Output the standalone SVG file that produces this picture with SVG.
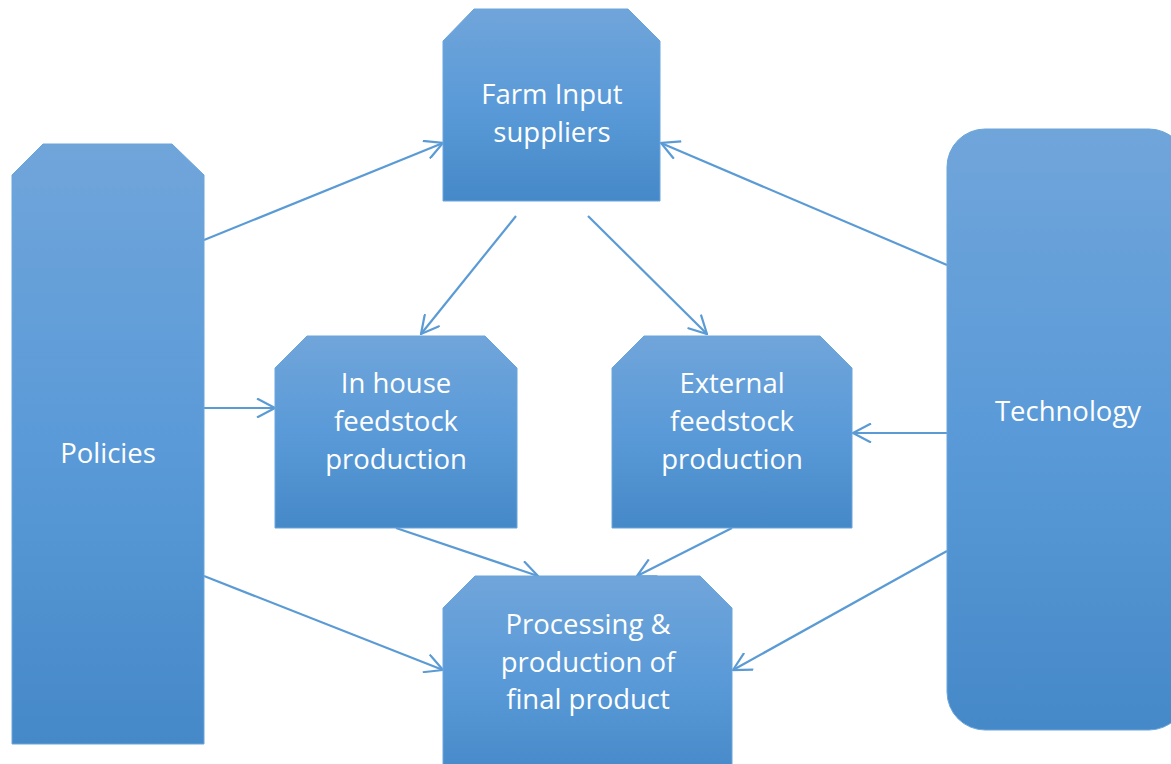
<svg xmlns="http://www.w3.org/2000/svg" width="1171" height="764" viewBox="0 0 1171 764">
<style>
.node{fill:url(#g);stroke:#6aa5dc;stroke-width:1}
.lbl{font-family:"Open Sans","Liberation Sans",sans-serif;font-size:27.5px;fill:#ffffff;text-anchor:middle}
.con{stroke:#5b9bd5;stroke-width:2.2;fill:none;marker-end:url(#ah)}
</style>
<defs>
<linearGradient id="g" x1="0" y1="0" x2="0" y2="1">
<stop offset="0" stop-color="#70a5da"/>
<stop offset="0.5" stop-color="#5a9ad8"/>
<stop offset="1" stop-color="#4689c8"/>
</linearGradient>
<marker id="ah" viewBox="0 0 20 20" refX="19" refY="10" markerWidth="20" markerHeight="20" markerUnits="userSpaceOnUse" orient="auto">
<path d="M1,0.5 L19,10 L1,19.5" fill="none" stroke="#5b9bd5" stroke-width="2.2"/>
</marker>
</defs>
<g id="connectors">
<line class="con" x1="204" y1="240" x2="443" y2="143"/>
<line class="con" x1="204" y1="408" x2="275" y2="408"/>
<line class="con" x1="204" y1="576" x2="443" y2="670"/>
<line class="con" x1="516" y1="216" x2="421" y2="334"/>
<line class="con" x1="588" y1="216" x2="707" y2="334"/>
<line class="con" x1="947" y1="265" x2="661" y2="143"/>
<line class="con" x1="947" y1="433" x2="853" y2="433"/>
<line class="con" x1="947" y1="551" x2="733" y2="670"/>
<line class="con" x1="396" y1="528" x2="538" y2="576"/>
<line class="con" x1="732" y1="528" x2="637" y2="576"/>
</g>
<g id="policies">
<path class="node" d="M43,144 L172,144 L204,175 L204,744 L12,744 L12,175 Z"/>
<text class="lbl" x="108" y="463">Policies</text>
</g>
<g id="farm-input">
<path class="node" d="M474,9 L628,9 L660,41 L660,201 L443,201 L443,41 Z"/>
<text class="lbl" x="552" y="104">Farm Input</text>
<text class="lbl" x="552" y="142">suppliers</text>
</g>
<g id="in-house">
<path class="node" d="M307,336 L485,336 L517,368 L517,528 L275,528 L275,368 Z"/>
<text class="lbl" x="396" y="393">In house</text>
<text class="lbl" x="396" y="431">feedstock</text>
<text class="lbl" x="396" y="469">production</text>
</g>
<g id="external">
<path class="node" d="M644,336 L820,336 L852,368 L852,528 L612,528 L612,368 Z"/>
<text class="lbl" x="732" y="393">External</text>
<text class="lbl" x="732" y="431">feedstock</text>
<text class="lbl" x="732" y="469">production</text>
</g>
<g id="processing">
<path class="node" d="M475,576 L700,576 L732,608 L732,780 L443,780 L443,608 Z"/>
<text class="lbl" x="588" y="634">Processing &amp;</text>
<text class="lbl" x="588" y="672">production of</text>
<text class="lbl" x="588" y="709">final product</text>
</g>
<g id="technology">
<rect class="node" x="947" y="129" width="240" height="601" rx="38" ry="38"/>
<text class="lbl" x="1068" y="421">Technology</text>
</g>
</svg>
